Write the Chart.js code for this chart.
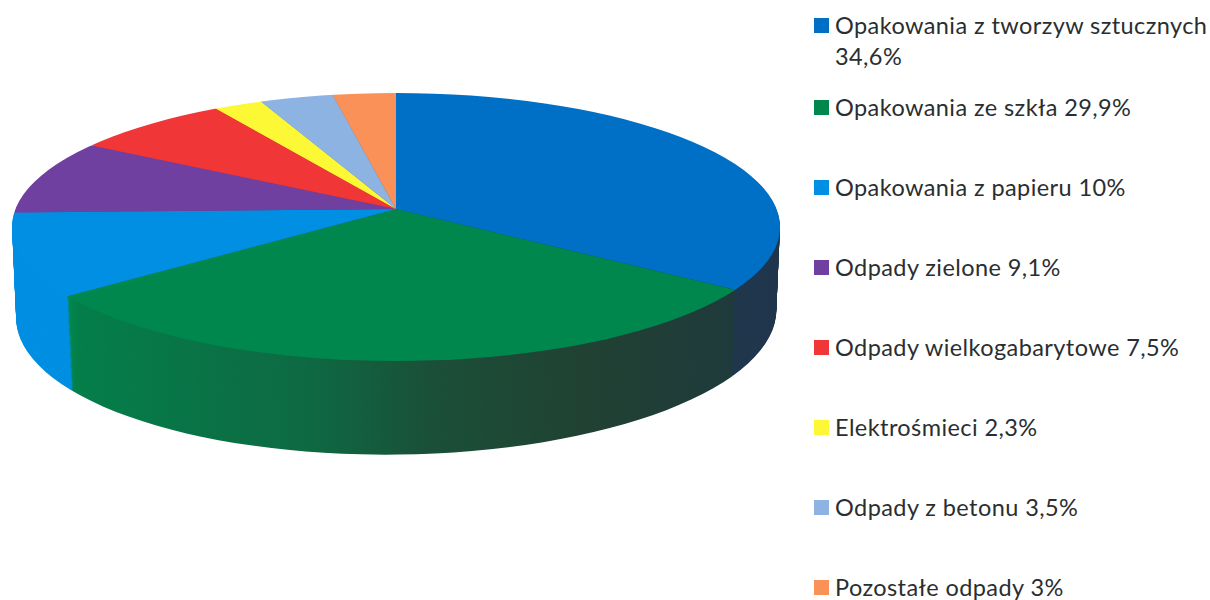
<!DOCTYPE html>
<html lang="pl">
  <head>
    <meta charset="UTF-8" />
    <title>Odpady</title>
    <script src="https://cdn.jsdelivr.net/npm/chart.js"></script>
    <style>
      html, body { margin: 0; background: #fff; overflow: hidden; }
      #wrap { position: relative; width: 1210px; height: 600px; }
      canvas { position: absolute; left: 0; top: 0; }
      #legend {
        position: absolute; left: 814px; top: 10px; margin: 0; padding: 0; list-style: none;
        font: 400 23.5px/31px Lato, sans-serif; letter-spacing: 0.42px; color: #2a2e31;
      }
      #legend li { position: relative; height: 80px; padding-left: 21px; width: 380px; }
      #legend li:first-child { height: 82px; }
      #legend i { position: absolute; left: 0; top: 8px; width: 15px; height: 15px; }
    </style>
  </head>
  <body>
    <div id="wrap">
      <canvas id="pie" width="800" height="600"></canvas>
      <ul id="legend"></ul>
    </div>
    <script>
      const categories = [
        "Opakowania z tworzyw sztucznych",
        "Opakowania ze szkła",
        "Opakowania z papieru",
        "Odpady zielone",
        "Odpady wielkogabarytowe",
        "Elektrośmieci",
        "Odpady z betonu",
        "Pozostałe odpady",
      ];
      const shares = [34.6, 29.9, 10, 9.1, 7.5, 2.3, 3.5, 3];
      const colors = ["#0070c6", "#00874e", "#008fe2", "#7040a0", "#f03636", "#fdf835", "#8db3e2", "#fa9159"];

      // projected disc: apex of the slices sits above the centre of the rim ellipse
      const apex = { x: 396, y: 209 };
      const rim = { dy: 18, rx: 384, ry: 134 };
      const wedge = { rx: 380.7, ry: 131.2 };
      const depth = 86;

      function drawLayer(ctx, arcs, t) {
        ctx.save();
        ctx.translate(apex.x, apex.y + depth * t);
        ctx.rotate(-0.012 * t);
        ctx.scale(1 - 0.01 * t, 1 + 0.05 * t);
        ctx.beginPath();
        ctx.ellipse(0, rim.dy, rim.rx, rim.ry, 0, 0, Math.PI * 2);
        ctx.clip();
        arcs.forEach((arc) => {
          const r = arc.outerRadius;
          ctx.save();
          // radius blown up, the rim clip above cuts it back
          ctx.scale((wedge.rx / r) * 1.4, (wedge.ry / r) * 1.4);
          ctx.translate(-arc.x, -arc.y);
          arc.draw(ctx);
          ctx.restore();
        });
        ctx.restore();
      }

      const pie3d = {
        id: "pie3d",
        beforeDatasetDraw(chart) {
          const ctx = chart.ctx;
          const arcs = chart.getDatasetMeta(0).data;

          for (let d = depth; d > 0; d--) drawLayer(ctx, arcs, d / depth);

          // side wall gets darker to the right
          const shade = ctx.createLinearGradient(0, 0, 780, 0);
          shade.addColorStop(0, "rgba(40,50,45,0)");
          shade.addColorStop(0.09, "rgba(40,50,45,0)");
          shade.addColorStop(0.1, "rgba(40,50,45,0.1)");
          shade.addColorStop(0.4, "rgba(40,50,45,0.35)");
          shade.addColorStop(0.55, "rgba(40,50,45,0.65)");
          shade.addColorStop(0.75, "rgba(40,50,45,0.82)");
          shade.addColorStop(1, "rgba(35,45,60,0.88)");
          ctx.save();
          ctx.globalCompositeOperation = "source-atop";
          ctx.fillStyle = shade;
          ctx.fillRect(0, 0, 800, 600);
          ctx.restore();

          drawLayer(ctx, arcs, 0);
          return false;
        },
      };

      new Chart(document.getElementById("pie"), {
        type: "pie",
        data: {
          labels: categories,
          datasets: [{ data: shares, backgroundColor: colors, borderWidth: 0 }],
        },
        options: {
          responsive: false,
          animation: false,
          plugins: { legend: { display: false }, tooltip: { enabled: false } },
        },
        plugins: [pie3d],
      });

      const legend = document.getElementById("legend");
      categories.forEach((name, i) => {
        const li = document.createElement("li");
        const box = document.createElement("i");
        box.style.background = colors[i];
        li.appendChild(box);
        li.appendChild(document.createTextNode(name + " " + String(shares[i]).replace(".", ",") + "%"));
        legend.appendChild(li);
      });
    </script>
  </body>
</html>
